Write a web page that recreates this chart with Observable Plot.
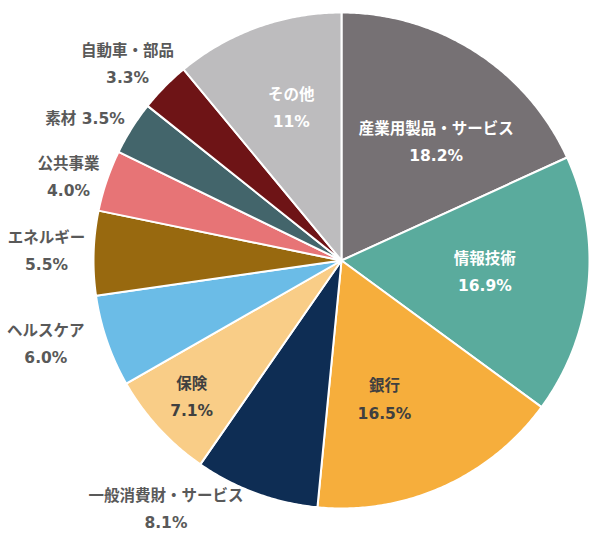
<!DOCTYPE html>
<html>
<head>
<meta charset="utf-8">
<script src="https://cdn.jsdelivr.net/npm/d3@7"></script>
<script src="https://cdn.jsdelivr.net/npm/@observablehq/plot@0.6"></script>
<style>
  html, body { margin: 0; padding: 0; background: #fff; }
  #chart svg { display: block; }
</style>
</head>
<body>
<div id="chart"></div>
<script>
// ---- data ----
const sectors = ["産業用製品・サービス", "情報技術", "銀行", "一般消費財・サービス", "保険", "ヘルスケア", "エネルギー", "公共事業", "素材", "自動車・部品", "その他"];
const shares  = [18.2, 16.9, 16.5, 8.1, 7.1, 6.0, 5.5, 4.0, 3.5, 3.3, 11];
const shareLabels = ["18.2%", "16.9%", "16.5%", "8.1%", "7.1%", "6.0%", "5.5%", "4.0%", "3.5%", "3.3%", "11%"];
const colors  = ["#767174", "#5aab9d", "#f6ae3c", "#0e2d54", "#f9cd87", "#6bbce7", "#98690f", "#e77476", "#43656b", "#6e1416", "#bdbcbe"];

// ---- layout (not data) ----
const W = 600, H = 553;
const cx = 341, cy = 260, R = 248;   // pixel centre and radius of pie
// label placement: radius factor and small angle nudge (degrees)
const labelLayout = {
  "産業用製品・サービス": {k: 0.61, da: 6, color: "#ffffff"},
  "情報技術":            {k: 0.58, da: -1, color: "#ffffff"},
  "銀行":                {k: 0.59, da: 7, color: "#404040"},
  "一般消費財・サービス": {k: 1.23, da: 15, color: "#595959"},
  "保険":                {k: 0.82, da: 0, color: "#404040"},
  "ヘルスケア":          {k: 1.24, da: 3, color: "#595959"},
  "エネルギー":          {k: 1.19, da: 0, color: "#595959"},
  "公共事業":            {k: 1.15, da: -2, color: "#595959"},
  "素材":                {k: 1.18, da: -3.5, color: "#595959", oneLine: true},
  "自動車・部品":        {k: 1.17, da: -2, color: "#595959"},
  "その他":              {k: 0.645, da: 1.5, color: "#ffffff"}
};

// ---- build slices from data ----
const rows = sectors.map((s, i) => ({name: s, value: shares[i], label: shareLabels[i], color: colors[i]}));
const pie = d3.pie().sort(null).value(d => d.value).startAngle(0).endAngle(2 * Math.PI);
const arcs = pie(rows);

const polyPts = [];
arcs.forEach(a => {
  polyPts.push({name: a.data.name, x: 0, y: 0});
  const n = Math.max(2, Math.ceil((a.endAngle - a.startAngle) / (Math.PI / 360)));
  for (let j = 0; j <= n; j++) {
    const t = a.startAngle + (a.endAngle - a.startAngle) * j / n;
    polyPts.push({name: a.data.name, x: Math.sin(t), y: Math.cos(t)});
  }
});

const labels = arcs.map(a => {
  const L = labelLayout[a.data.name];
  const mid = (a.startAngle + a.endAngle) / 2 + L.da * Math.PI / 180;
  return {
    name: a.data.name,
    x: L.k * Math.sin(mid),
    y: L.k * Math.cos(mid),
    text: L.oneLine ? `${a.data.name} ${a.data.label}` : `${a.data.name}\n${a.data.label}`,
    color: L.color
  };
});

// scale domains in "radius" units so that 1 unit = R px in both directions
const xDomain = [-cx / R, (W - cx) / R];
const yDomain = [-(H - cy) / R, cy / R];

const chart = Plot.plot({
  width: W,
  height: H,
  margin: 0,
  x: {domain: xDomain, axis: null},
  y: {domain: yDomain, axis: null},
  color: {domain: sectors, range: colors},
  style: {background: "#ffffff"},
  marks: [
    Plot.line(polyPts, {
      x: "x", y: "y", z: "name", fill: "name",
      stroke: "#ffffff", strokeWidth: 2, strokeLinejoin: "round",
      curve: "linear-closed"
    }),
    Plot.text(labels, {
      x: "x", y: "y", text: "text", fill: "color",
      dy: -4,
      fontSize: 15.5, fontWeight: "bold", lineHeight: 1.75,
      fontFamily: "'DejaVu Sans', 'Noto Sans CJK JP', sans-serif",
      textAnchor: "middle"
    })
  ]
});
document.getElementById("chart").append(chart);
</script>
</body>
</html>
